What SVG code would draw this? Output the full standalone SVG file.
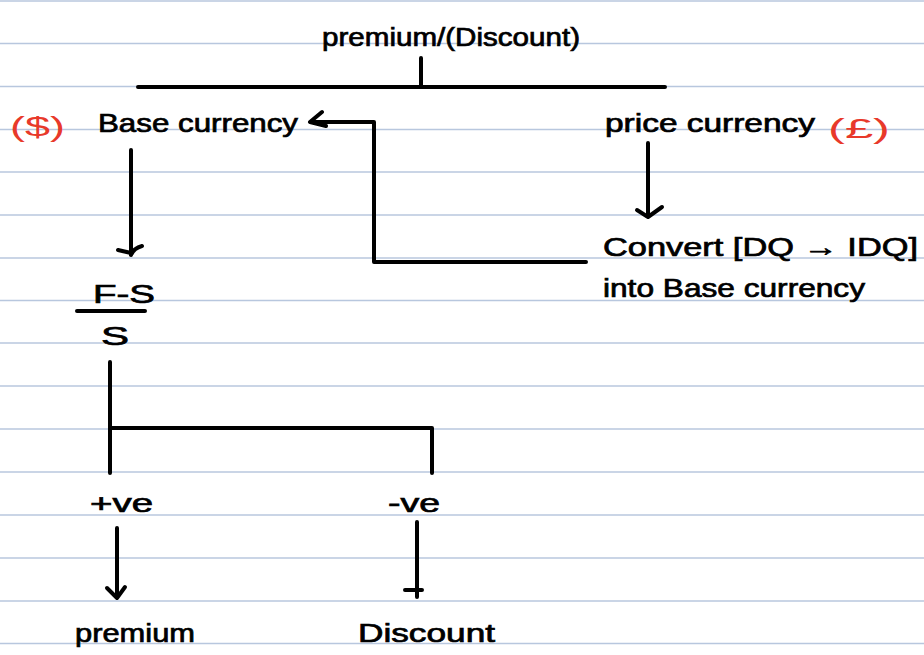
<svg xmlns="http://www.w3.org/2000/svg" width="924" height="655" viewBox="0 0 924 655">
<defs>
<style>
.rule{stroke:#b8c7de;stroke-width:1.6}
.ln{stroke:#000;stroke-width:4;fill:none;stroke-linecap:round;stroke-linejoin:round}
.t{font-family:"Liberation Sans",Arial,sans-serif;font-size:25px;fill:#000;stroke:#000;stroke-width:0.7}
.r{font-family:"Liberation Sans",Arial,sans-serif;font-size:28px;fill:#e8392a}
</style>
</defs>
<rect width="924" height="655" fill="#fff"/>
<g id="paper">
<line class="rule" x1="0" x2="924" y1="1" y2="1"/>
<line class="rule" x1="0" x2="924" y1="43.5" y2="43.5"/>
<line class="rule" x1="0" x2="924" y1="86.5" y2="86.5"/>
<line class="rule" x1="0" x2="924" y1="129.5" y2="129.5"/>
<line class="rule" x1="0" x2="924" y1="172" y2="172"/>
<line class="rule" x1="0" x2="924" y1="215" y2="215"/>
<line class="rule" x1="0" x2="924" y1="258" y2="258"/>
<line class="rule" x1="0" x2="924" y1="300.5" y2="300.5"/>
<line class="rule" x1="0" x2="924" y1="343" y2="343"/>
<line class="rule" x1="0" x2="924" y1="386" y2="386"/>
<line class="rule" x1="0" x2="924" y1="429" y2="429"/>
<line class="rule" x1="0" x2="924" y1="472" y2="472"/>
<line class="rule" x1="0" x2="924" y1="515" y2="515"/>
<line class="rule" x1="0" x2="924" y1="558" y2="558"/>
<line class="rule" x1="0" x2="924" y1="601" y2="601"/>
<line class="rule" x1="0" x2="924" y1="643.5" y2="643.5"/>
</g>
<g id="connectors">
<path class="ln" d="M138 87 H665 M421 58 V87"/>
<path class="ln" d="M131 150 V255 M118 250 L131 253 M131 255 Q134 248 142 246"/>
<path class="ln" d="M648 143 V217 M637 210 L648 217 L662 207"/>
<path class="ln" d="M586 262 H374 V122 H312 M322 112 L310 122 L326 126"/>
<path class="ln" d="M110 362 V473 M110 428 H432 V473"/>
<path class="ln" d="M117 528 V598 M107 588 L117 598 L125 587"/>
<path class="ln" d="M417 522 V597 M405 590 H422"/>
<path class="ln" d="M77 311 H145"/>
</g>
<g id="title"><text class="t" x="322" y="46" textLength="258" lengthAdjust="spacingAndGlyphs">premium/(Discount)</text></g>
<g id="base"><text class="r" x="10" y="136" textLength="55" lengthAdjust="spacingAndGlyphs">($)</text><text class="t" x="98" y="132" textLength="200" lengthAdjust="spacingAndGlyphs">Base currency</text></g>
<g id="price"><text class="t" x="605" y="132" textLength="210" lengthAdjust="spacingAndGlyphs">price currency</text><text class="r" x="828" y="138" textLength="62" lengthAdjust="spacingAndGlyphs">(£)</text></g>
<g id="convert"><text class="t" x="603" y="256" textLength="315" lengthAdjust="spacingAndGlyphs">Convert [DQ → IDQ]</text><text class="t" x="603" y="297" textLength="262" lengthAdjust="spacingAndGlyphs">into Base currency</text></g>
<g id="formula"><text class="t" x="93" y="303" textLength="62" lengthAdjust="spacingAndGlyphs">F-S</text><text class="t" x="101" y="345" textLength="28" lengthAdjust="spacingAndGlyphs">S</text></g>
<g id="pos"><text class="t" x="90" y="512" textLength="63" lengthAdjust="spacingAndGlyphs">+ve</text></g>
<g id="neg"><text class="t" x="388" y="512" textLength="52" lengthAdjust="spacingAndGlyphs">-ve</text></g>
<g id="premium"><text class="t" x="75" y="642" textLength="120" lengthAdjust="spacingAndGlyphs">premium</text></g>
<g id="discount"><text class="t" x="358" y="642" textLength="137" lengthAdjust="spacingAndGlyphs">Discount</text></g>
</svg>
